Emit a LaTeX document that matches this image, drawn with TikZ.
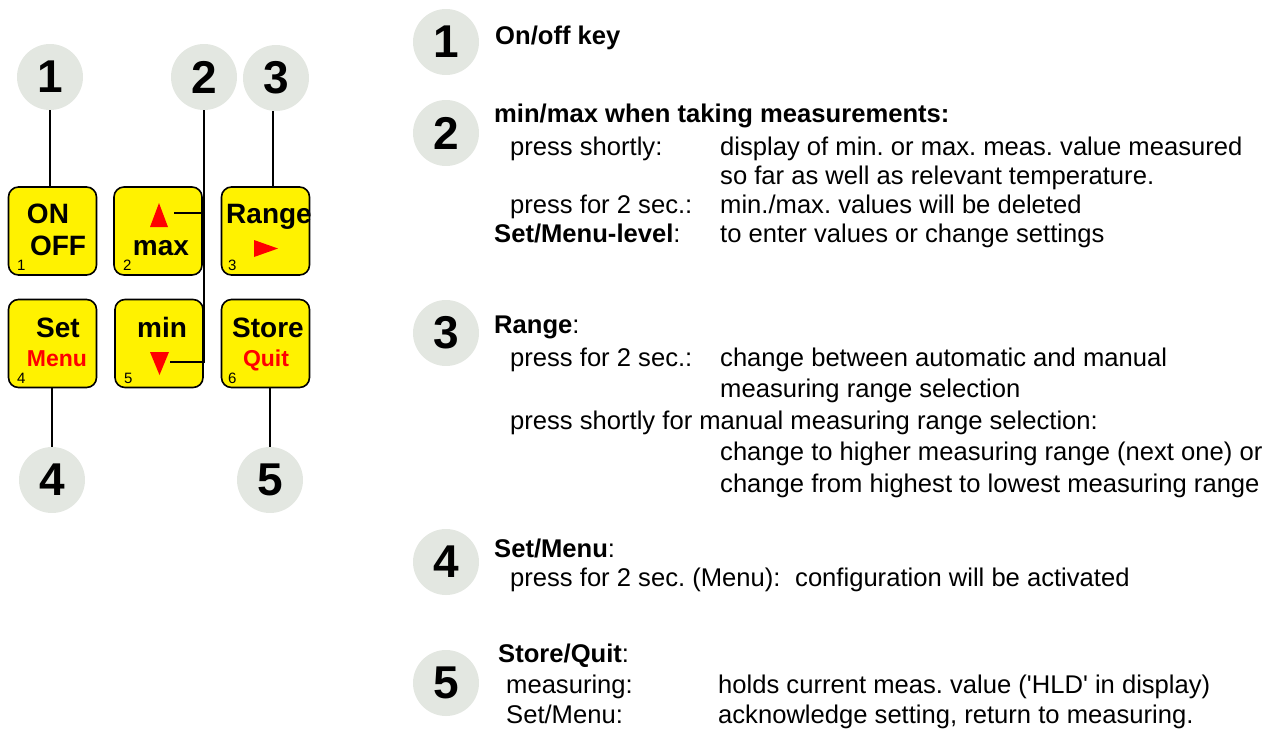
\documentclass[tikz,border=0pt]{standalone}
\usepackage{fontspec}
\setmainfont{Liberation Sans}
\definecolor{badgegrey}{RGB}{227,231,225}
\frenchspacing

\begin{document}
\begin{tikzpicture}[x=1pt,y=-1pt]
\tikzset{badge/.style={circle,fill=badgegrey,minimum size=66pt,inner sep=0pt,font=\fontsize{46}{46}\selectfont\bfseries}}
\tikzset{keybox/.style={draw,line width=1.6pt,fill=yellow,rounded corners=10pt,minimum width=88pt,minimum height=88pt,inner sep=0pt}}
\tikzset{keytxt/.style={font=\fontsize{28}{28}\selectfont\bfseries,inner sep=0pt,anchor=base}}
\tikzset{keyred/.style={font=\fontsize{23}{23}\selectfont\bfseries,text=red,inner sep=0pt,anchor=base}}
\tikzset{keyno/.style={font=\fontsize{15}{15}\selectfont,inner sep=0pt,anchor=base west}}
\tikzset{lead/.style={line width=1.6pt}}
\tikzset{head/.style={font=\fontsize{25.6}{26}\selectfont\bfseries,inner sep=0pt,anchor=base west}}
\tikzset{desc/.style={font=\fontsize{25.6}{26}\selectfont,inner sep=0pt,anchor=base west}}
\useasboundingbox (0,0) rectangle (1268,729);

% keypad
\node[keybox] (k1) at (52.5,231) {};
\node[keybox] (k2) at (158,231) {};
\node[keybox] (k3) at (265.5,231) {};
\node[keybox] (k4) at (52.5,343.5) {};
\node[keybox] (k5) at (159,343.5) {};
\node[keybox] (k6) at (265.5,343.5) {};

\node[keytxt] (on) at (48,223) {ON};
\node[keytxt] (off) at (58,255) {OFF};
\node[keyno] (no1) at (17,270) {1};
\fill[red] (150,227) -- (168,227) -- (159,203) -- cycle;
\node[keytxt] (max) at (161,255) {max};
\node[keyno] (no2) at (123,270) {2};
\node[keytxt] (range) at (269,223) {Range};
\fill[red] (254,240) -- (254,257) -- (278,248.5) -- cycle;
\node[keyno] (no3) at (228,270) {3};
\node[keytxt] (set) at (58,337) {Set};
\node[keyred] (menu) at (57,366) {Menu};
\node[keyno] (no4) at (17,383) {4};
\node[keytxt] (min) at (162,337) {min};
\fill[red] (150,352) -- (169,352) -- (159.5,375) -- cycle;
\node[keyno] (no5) at (124,383) {5};
\node[keytxt] (store) at (268,337) {Store};
\node[keyred] (quit) at (266,366) {Quit};
\node[keyno] (no6) at (228,383) {6};

% callouts
\node[badge] (n1) at (50,77) {1};
\node[badge] (n2) at (204,77) {2};
\node[badge] (n3) at (276,78) {3};
\node[badge] (n4) at (52,480) {4};
\node[badge] (n5) at (270,480) {5};

\coordinate (up) at (174,213);
\coordinate (dn) at (170,362);
\coordinate (j2) at (204,213);
\coordinate (t3) at (273,187);
\draw[lead] (n1.south) -- (n1.south |- k1.north);
\draw[lead] (n2.south) |- (dn);
\draw[lead] (j2) -- (up);
\draw[lead] (t3 |- n3.south) -- (t3);
\draw[lead] (n4.north |- k4.south) -- (n4.north);
\draw[lead] (n5.north |- k6.south) -- (n5.north);

% legend
\node[badge] (r1) at (446,42) {1};
\node[badge] (r2) at (446,133) {2};
\node[badge] (r3) at (446,333) {3};
\node[badge] (r4) at (446,562) {4};
\node[badge] (r5) at (446,683) {5};

\node[head] (h1) at (495,44) {On/off key};

\node[head] (h2) at (494,122) {min/max when taking measurements:};
\node[desc] (a2) at (510,155) {press shortly:};
\node[desc] (b2) at (720,155) {display of min. or max. meas. value measured};
\node[desc] (c2) at (720,184) {so far as well as relevant temperature.};
\node[desc] (d2) at (510,213) {press for 2 sec.:};
\node[desc] (e2) at (720,213) {min./max. values will be deleted};
\node[desc] (f2) at (494,242) {\bfseries Set/Menu-level\mdseries:};
\node[desc] (g2) at (720,242) {to enter values or change settings};

\node[desc] (h3) at (494,333) {\bfseries Range\mdseries:};
\node[desc] (a3) at (510,366) {press for 2 sec.:};
\node[desc] (b3) at (720,366) {change between automatic and manual};
\node[desc] (c3) at (720,397) {measuring range selection};
\node[desc] (d3) at (510,429) {press shortly for manual measuring range selection:};
\node[desc] (e3) at (720,460) {change to higher measuring range (next one) or};
\node[desc] (f3) at (720,492) {change from highest to lowest measuring range};

\node[desc] (h4) at (494,557) {\bfseries Set/Menu\mdseries:};
\node[desc] (a4) at (510,586) {press for 2 sec. (Menu):};
\node[desc] (b4) at (795,586) {configuration will be activated};

\node[desc] (h5) at (498,662) {\bfseries Store/Quit\mdseries:};
\node[desc] (a5) at (506,693) {measuring:};
\node[desc] (b5) at (718,693) {holds current meas. value (\textquotesingle HLD\textquotesingle\ in display)};
\node[desc] (c5) at (506,723) {Set/Menu:};
\node[desc] (d5) at (718,723) {acknowledge setting, return to measuring.};
\end{tikzpicture}
\end{document}
